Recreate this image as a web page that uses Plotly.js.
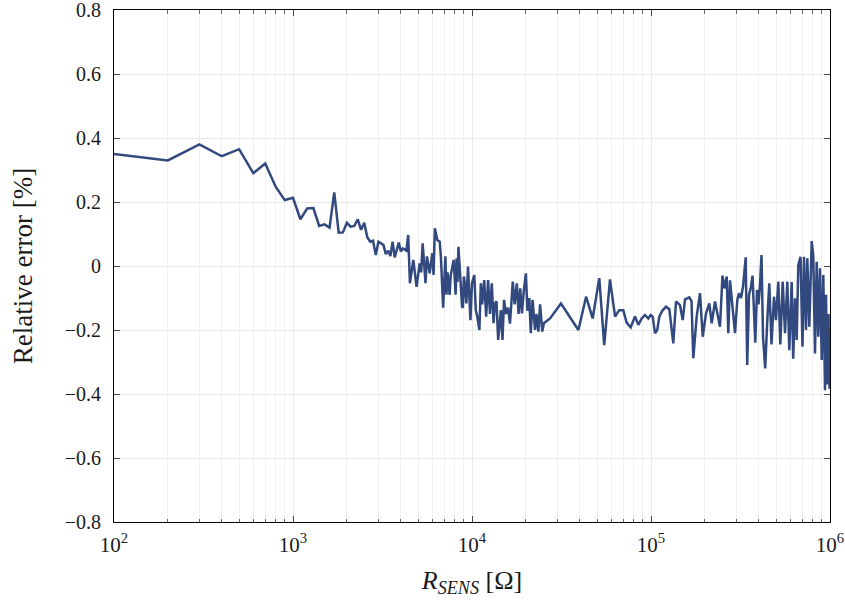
<!DOCTYPE html>
<html>
<head>
<meta charset="utf-8">
<script src="https://cdn.plot.ly/plotly-3.0.1.min.js"></script>
<style>
  html, body { margin: 0; padding: 0; background: #fff; }
  #chart { width: 845px; height: 602px; }
</style>
</head>
<body>
<div id="chart"></div>
<script>
// Sensor resistance R_SENS [Ohm]
const rSens = [
  100, 200, 300, 400, 500, 600, 700, 800, 900, 1000,
  1100, 1200, 1300, 1400, 1500, 1600, 1700, 1800, 1900, 2000,
  2100, 2200, 2300, 2400, 2500, 2600, 2700, 2800, 2900, 3000,
  3200, 3300, 3400, 3500, 3600, 3700, 3900, 4000, 4100, 4300,
  4400, 4500, 4700, 4800, 4900, 5100, 5200, 5300, 5500, 5600,
  5800, 6000, 6100, 6200, 6300, 6400, 6600, 6700, 6900, 7100,
  7200, 7300, 7500, 7600, 7900, 8100, 8200, 8300, 8400, 8600,
  8800, 8900, 9000, 9100, 9300, 9500, 9700, 9800, 10000, 10300,
  10500, 10700, 11000, 11200, 11400, 11700, 12000, 12300, 12600, 12900,
  13200, 13400, 13700, 14000, 14500, 14800, 15100, 15500, 15900, 16300,
  16900, 17300, 17800, 18200, 18600, 19000, 19500, 20000, 20400, 20900,
  21300, 21800, 22500, 22900, 23500, 24000, 24700, 25200, 27300, 31400,
  39300, 43400, 47200, 51400, 54800, 59000, 63000, 66500, 70000, 73100,
  77000, 81400, 85000, 88700, 92600, 96600, 99600, 102200, 105300, 108400,
  111300, 115600, 121300, 126600, 133200, 137900, 145200, 150400, 154900, 163700,
  168400, 172300, 180000, 187800, 194500, 203000, 211800, 218300, 227800, 237700,
  242900, 250800, 257400, 264800, 270300, 276300, 282400, 288300, 294700, 303500,
  310200, 318300, 326600, 338100, 344700, 352800, 362000, 369000, 376200, 382500,
  391000, 398600, 406300, 414300, 422400, 434500, 446400, 458000, 471200, 486600,
  499200, 514300, 527700, 544200, 560500, 577400, 592400, 610900, 622900, 637500,
  651500, 665100, 684300, 702100, 715700, 734400, 746900, 766400, 790400, 806800,
  824600, 842800, 860300, 879300, 898800, 917600, 937700, 949900, 965800, 980800,
  993600, 1000000
];

// Relative error [%]
const relError = [
  0.35, 0.33, 0.38, 0.343, 0.365, 0.29, 0.32, 0.248, 0.206, 0.213,
  0.146, 0.18, 0.181, 0.125, 0.13, 0.12, 0.23, 0.104, 0.105, 0.135,
  0.123, 0.125, 0.146, 0.113, 0.135, 0.09, 0.076, 0.079, 0.034, 0.076,
  0.066, 0.037, 0.048, 0.031, 0.076, 0.027, 0.073, 0.045, 0.055, 0.048,
  0.097, -0.054, 0.019, -0.028, -0.065, 0.008, -0.02, 0.071, -0.054, 0.03,
  -0.023, 0.04, -0.028, 0.118, 0.10, 0.081, 0.076, 0.03, -0.13, 0.03,
  -0.09, -0.02, -0.09, -0.03, 0.019, -0.09, 0.024, -0.05, 0.06, -0.04,
  -0.127, -0.13, -0.033, -0.05, -0.117, -0.002, -0.14, -0.169, -0.054, -0.028,
  -0.138, -0.158, -0.2, -0.054, -0.12, -0.044, -0.158, -0.044, -0.15, -0.054,
  -0.179, -0.12, -0.11, -0.231, -0.138, -0.231, -0.106, -0.15, -0.13, -0.18,
  -0.049, -0.12, -0.054, -0.15, -0.07, -0.148, -0.075, -0.023, -0.14, -0.1,
  -0.21, -0.106, -0.2, -0.15, -0.205, -0.12, -0.205, -0.179, -0.164, -0.117,
  -0.2, -0.096, -0.164, -0.038, -0.247, -0.042, -0.158, -0.138, -0.138, -0.177,
  -0.192, -0.158, -0.184, -0.164, -0.153, -0.164, -0.153, -0.158, -0.21, -0.2,
  -0.158, -0.14, -0.127, -0.135, -0.242, -0.111, -0.122, -0.169, -0.104, -0.098,
  -0.11, -0.288, -0.158, -0.085, -0.221, -0.148, -0.117, -0.179, -0.111, -0.158,
  -0.19, -0.03, -0.07, -0.033, -0.21, -0.045, -0.096, -0.148, -0.21, -0.106,
  -0.085, -0.1, -0.065, 0.027, -0.309, -0.09, -0.065, -0.03, -0.15, -0.24,
  -0.075, -0.12, -0.06, 0.034, -0.221, -0.32, -0.169, -0.054, -0.245, -0.096,
  -0.169, -0.049, -0.245, -0.049, -0.21, -0.049, -0.263, -0.05, -0.29, -0.101,
  -0.231, 0.003, 0.029, -0.252, 0.029, -0.2, 0.024, -0.19, 0.078, 0.03,
  -0.273, 0.013, -0.221, -0.007, -0.294, -0.028, -0.388, -0.09, -0.37, -0.15,
  -0.38, -0.38
];

const majorTicks = [100, 1000, 10000, 100000, 1000000];
const majorTickText = ['10<sup>2</sup>', '10<sup>3</sup>', '10<sup>4</sup>', '10<sup>5</sup>', '10<sup>6</sup>'];
const minorTicks = [
  200, 300, 400, 500, 600, 700, 800, 900,
  2000, 3000, 4000, 5000, 6000, 7000, 8000, 9000,
  20000, 30000, 40000, 50000, 60000, 70000, 80000, 90000,
  200000, 300000, 400000, 500000, 600000, 700000, 800000, 900000
];
const yTicks = [-0.8, -0.6, -0.4, -0.2, 0, 0.2, 0.4, 0.6, 0.8];
const yTickText = ['\u22120.8', '\u22120.6', '\u22120.4', '\u22120.2', '0', '0.2', '0.4', '0.6', '0.8'];

const serif = 'Liberation Serif';

const trace = {
  x: rSens,
  y: relError,
  type: 'scatter',
  mode: 'lines',
  line: { color: '#32497f', width: 2.5 },
  hoverinfo: 'x+y'
};

const layout = {
  width: 845,
  height: 602,
  margin: { l: 114, r: 15, t: 10, b: 80 },
  paper_bgcolor: '#ffffff',
  plot_bgcolor: '#ffffff',
  showlegend: false,
  font: { family: serif, size: 20, color: '#1a1a1a' },
  xaxis: {
    type: 'log',
    range: [2, 6],
    tickmode: 'array',
    tickvals: majorTicks,
    ticktext: majorTickText,
    ticks: 'inside',
    ticklen: 6,
    tickwidth: 1,
    tickcolor: '#444',
    showline: true,
    linecolor: '#000',
    linewidth: 1,
    mirror: 'ticks',
    showgrid: true,
    gridcolor: '#e9e9e9',
    gridwidth: 1,
    zeroline: false,
    ticklabeloverflow: 'allow',
    ticklabelstandoff: 4,
    tickfont: { family: serif, size: 21, color: '#1a1a1a' },
    minor: {
      tickmode: 'array',
      tickvals: minorTicks,
      ticks: 'inside',
      ticklen: 3.5,
      tickcolor: '#666',
      showgrid: true,
      gridcolor: '#f0f0f0',
      gridwidth: 1
    },
    title: {
      text: '<i>R</i><sub><i>SENS</i></sub> [Ω]',
      font: { family: serif, size: 26 },
      standoff: 14
    }
  },
  yaxis: {
    range: [-0.8, 0.8],
    tickmode: 'array',
    tickvals: yTicks,
    ticktext: yTickText,
    ticks: 'inside',
    ticklen: 6,
    tickcolor: '#444',
    showline: true,
    linecolor: '#000',
    linewidth: 1,
    mirror: 'ticks',
    showgrid: true,
    gridcolor: '#e9e9e9',
    zeroline: false,
    ticklabeloverflow: 'allow',
    ticklabelstandoff: 8,
    tickfont: { family: serif, size: 20, color: '#1a1a1a' },
    title: {
      text: 'Relative error [%]',
      font: { family: serif, size: 27 },
      standoff: 24
    }
  }
};

Plotly.newPlot('chart', [trace], layout, { staticPlot: true, displayModeBar: false });
</script>
</body>
</html>
